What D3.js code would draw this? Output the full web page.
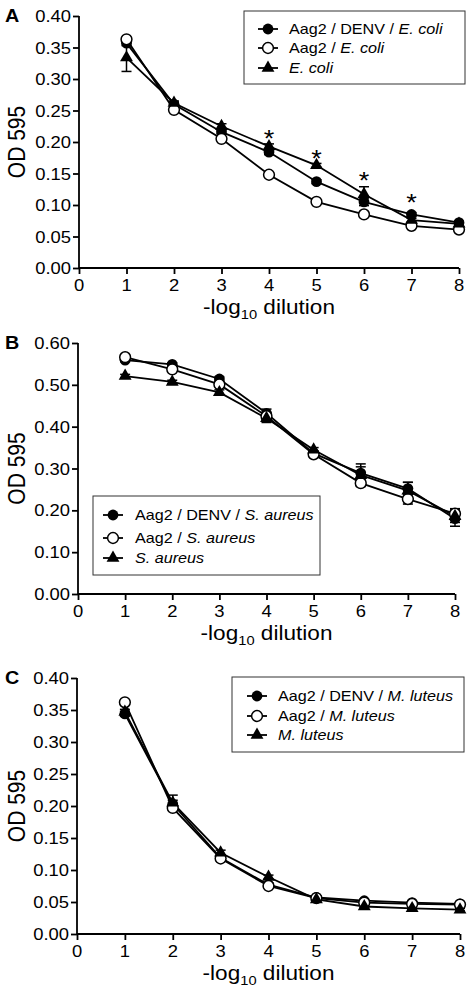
<!DOCTYPE html>
<html><head><meta charset="utf-8">
<script src="https://cdn.jsdelivr.net/npm/d3@7"></script>
<style>body{margin:0;background:#fff}svg{display:block}text{font-family:Arial,"Liberation Sans",sans-serif;fill:#000}</style>
</head><body><svg id="c" width="472" height="995"></svg>
<script>
// ---- data ----
const dilutions = [1,2,3,4,5,6,7,8];
const xTicks = [0,1,2,3,4,5,6,7,8];
const yTicksA = [0,0.05,0.10,0.15,0.20,0.25,0.30,0.35,0.40];
const yTicksB = [0,0.10,0.20,0.30,0.40,0.50,0.60];
const yTicksC = [0,0.05,0.10,0.15,0.20,0.25,0.30,0.35,0.40];

// Panel A (E. coli)
const aDenvEcoli  = [0.357,0.260,0.216,0.184,0.137,0.105,0.085,0.072];
const aDenvEcoliE = [0.004,0.003,0.003,0.004,0.003,0.006,0.003,0.002];
const aAag2Ecoli  = [0.363,0.251,0.205,0.148,0.105,0.085,0.067,0.061];
const aAag2EcoliE = [0.003,0.003,0.003,0.003,0.002,0.003,0.002,0.002];
const aEcoli      = [0.334,0.262,0.225,0.193,0.163,0.117,0.076,0.070];
const aEcoliE     = [0.022,0.003,0.004,0.004,0.003,0.012,0.003,0.002];
const starX = [4,5,6,7];
const starY = [0.214,0.183,0.148,0.113];

// Panel B (S. aureus)
const bDenvSaureus  = [0.559,0.549,0.514,0.432,0.336,0.289,0.252,0.180];
const bDenvSaureusE = [0.004,0.004,0.005,0.010,0.006,0.022,0.015,0.018];
const bAag2Saureus  = [0.566,0.537,0.501,0.425,0.334,0.265,0.227,0.192];
const bAag2SaureusE = [0.004,0.004,0.005,0.008,0.005,0.008,0.012,0.012];
const bSaureus      = [0.521,0.507,0.482,0.420,0.345,0.284,0.247,0.186];
const bSaureusE     = [0.004,0.004,0.006,0.010,0.005,0.020,0.020,0.015];

// Panel C (M. luteus)
const cDenvMluteus  = [0.344,0.203,0.119,0.077,0.057,0.052,0.049,0.047];
const cDenvMluteusE = [0.004,0.006,0.004,0.003,0.002,0.002,0.002,0.002];
const cAag2Mluteus  = [0.362,0.197,0.118,0.075,0.056,0.049,0.047,0.046];
const cAag2MluteusE = [0.003,0.004,0.003,0.003,0.002,0.002,0.002,0.002];
const cMluteus      = [0.347,0.205,0.127,0.089,0.054,0.043,0.040,0.038];
const cMluteusE     = [0.004,0.012,0.004,0.003,0.002,0.002,0.002,0.002];

const legendA = [["Aag2 / DENV / ","E. coli"],["Aag2 / ","E. coli"],["","E. coli"]];
const legendB = [["Aag2 / DENV / ","S. aureus"],["Aag2 / ","S. aureus"],["","S. aureus"]];
const legendC = [["Aag2 / DENV / ","M. luteus"],["Aag2 / ","M. luteus"],["","M. luteus"]];

// ---- drawing ----
const SX = 1.13;
const svg = d3.select("#c");

function stext(parent, x, y, str, size, anchor, weight){
  const g = parent.append("g").attr("transform",`translate(${x},${y}) scale(${SX},1)`);
  return g.append("text").attr("font-size",size).attr("text-anchor",anchor||"start")
    .attr("font-weight",weight||"normal").text(str);
}

function marker(g, type, x, y){
  if(type==="filled") g.append("circle").attr("cx",x).attr("cy",y).attr("r",5.4).attr("fill","#000");
  else if(type==="open") g.append("circle").attr("cx",x).attr("cy",y).attr("r",5.4).attr("fill","#fff").attr("stroke","#000").attr("stroke-width",1.5);
  else g.append("path").attr("d",d3.symbol(d3.symbolTriangle,72)()).attr("transform",`translate(${x},${y})`).attr("fill","#000");
}

function panel(cfg){
  const x = d3.scaleLinear().domain([0,8]).range([cfg.x0,cfg.x1]);
  const y = d3.scaleLinear().domain([0,cfg.ymax]).range([cfg.y0,cfg.y1]);
  const g = svg.append("g");
  // axes
  const ya = g.append("g").attr("transform",`translate(${cfg.x0},0)`)
    .call(d3.axisLeft(y).tickValues(cfg.yTicks).tickSize(6).tickFormat(()=>""));
  const xa = g.append("g").attr("transform",`translate(0,${cfg.y0})`)
    .call(d3.axisBottom(x).tickValues(xTicks).tickSize(6).tickFormat(()=>""));
  [ya,xa].forEach(a=>{a.selectAll("path,line").attr("stroke","#000").attr("stroke-width",1.8);
    a.select("path.domain").attr("d", a===ya ? `M0,${cfg.y0}V${cfg.y1}` : `M${cfg.x0},0H${cfg.x1}`);});
  cfg.yTicks.forEach(v=>stext(g,cfg.x0-8,y(v)+6,d3.format(".2f")(v),16.3,"end"));
  xTicks.forEach(v=>stext(g,x(v),cfg.y0+23,String(v),16.3,"middle"));
  // titles
  const xt = stext(g,(cfg.x0+cfg.x1)/2,cfg.y0+46,"",20,"middle");
  xt.append("tspan").text("-log");
  xt.append("tspan").attr("font-size",13).attr("dy",5).text("10");
  xt.append("tspan").attr("dy",-5).text(" dilution");
  g.append("g").attr("transform",`translate(25,${(cfg.y0+cfg.y1)/2}) rotate(-90) scale(1,${SX})`)
    .append("text").attr("font-size",21).attr("text-anchor","middle").attr("fill","#111").text("OD 595");
  stext(g,5,cfg.y1+6,cfg.letter,17.5,"start","bold");
  // series
  const line = d3.line().x((d,i)=>x(dilutions[i])).y(d=>y(d));
  cfg.series.forEach(s=>{
    g.append("path").attr("d",line(s.v)).attr("fill","none").attr("stroke","#000").attr("stroke-width",1.8);
  });
  cfg.series.forEach(s=>{
    s.v.forEach((v,i)=>{
      const cx = x(dilutions[i]), yt=y(v+s.e[i]), yb=y(v-s.e[i]);
      g.append("line").attr("x1",cx).attr("x2",cx).attr("y1",yt).attr("y2",yb).attr("stroke","#000").attr("stroke-width",1.5);
      [yt,yb].forEach(yy=>g.append("line").attr("x1",cx-5).attr("x2",cx+5).attr("y1",yy).attr("y2",yy).attr("stroke","#000").attr("stroke-width",1.5));
    });
  });
  cfg.series.forEach(s=>{ s.v.forEach((v,i)=>marker(g,s.type,x(dilutions[i]),y(v))); });
  if(cfg.stars) cfg.stars.x.forEach((sx,i)=>stext(g,x(sx),y(cfg.stars.y[i])+14,"*",24,"middle"));
  // legend
  const L = cfg.legend;
  g.append("rect").attr("x",L.x).attr("y",L.y).attr("width",L.w).attr("height",L.h)
    .attr("fill","#fff").attr("stroke","#333").attr("stroke-width",1);
  const types=["filled","open","tri"];
  L.items.forEach((it,i)=>{
    const yy = L.rows[i];
    g.append("line").attr("x1",L.mx-10).attr("x2",L.mx+10).attr("y1",yy).attr("y2",yy).attr("stroke","#000").attr("stroke-width",1.8);
    marker(g,types[i],L.mx,yy);
    const t = stext(g,L.tx,yy+5.3,"",14.3,"start");
    if(it[0]) t.append("tspan").text(it[0]);
    t.append("tspan").attr("font-style","italic").text(it[1]);
  });
}

panel({letter:"A",x0:79,x1:459,y0:268,y1:16,ymax:0.40,yTicks:yTicksA,
  series:[{type:"filled",v:aDenvEcoli,e:aDenvEcoliE},{type:"open",v:aAag2Ecoli,e:aAag2EcoliE},{type:"tri",v:aEcoli,e:aEcoliE}],
  stars:{x:starX,y:starY},
  legend:{x:244,y:11,w:221,h:73,rows:[29,48,68],mx:268,tx:289,items:legendA}});
panel({letter:"B",x0:78,x1:455,y0:594,y1:343,ymax:0.60,yTicks:yTicksB,
  series:[{type:"filled",v:bDenvSaureus,e:bDenvSaureusE},{type:"open",v:bAag2Saureus,e:bAag2SaureusE},{type:"tri",v:bSaureus,e:bSaureusE}],
  legend:{x:93,y:496,w:227,h:79,rows:[515,538,558],mx:113,tx:135,items:legendB}});
panel({letter:"C",x0:77,x1:460,y0:934,y1:678,ymax:0.40,yTicks:yTicksC,
  series:[{type:"filled",v:cDenvMluteus,e:cDenvMluteusE},{type:"open",v:cAag2Mluteus,e:cAag2MluteusE},{type:"tri",v:cMluteus,e:cMluteusE}],
  legend:{x:232,y:677,w:232,h:75,rows:[696,716,735],mx:257,tx:278,items:legendC}});
</script></body></html>
